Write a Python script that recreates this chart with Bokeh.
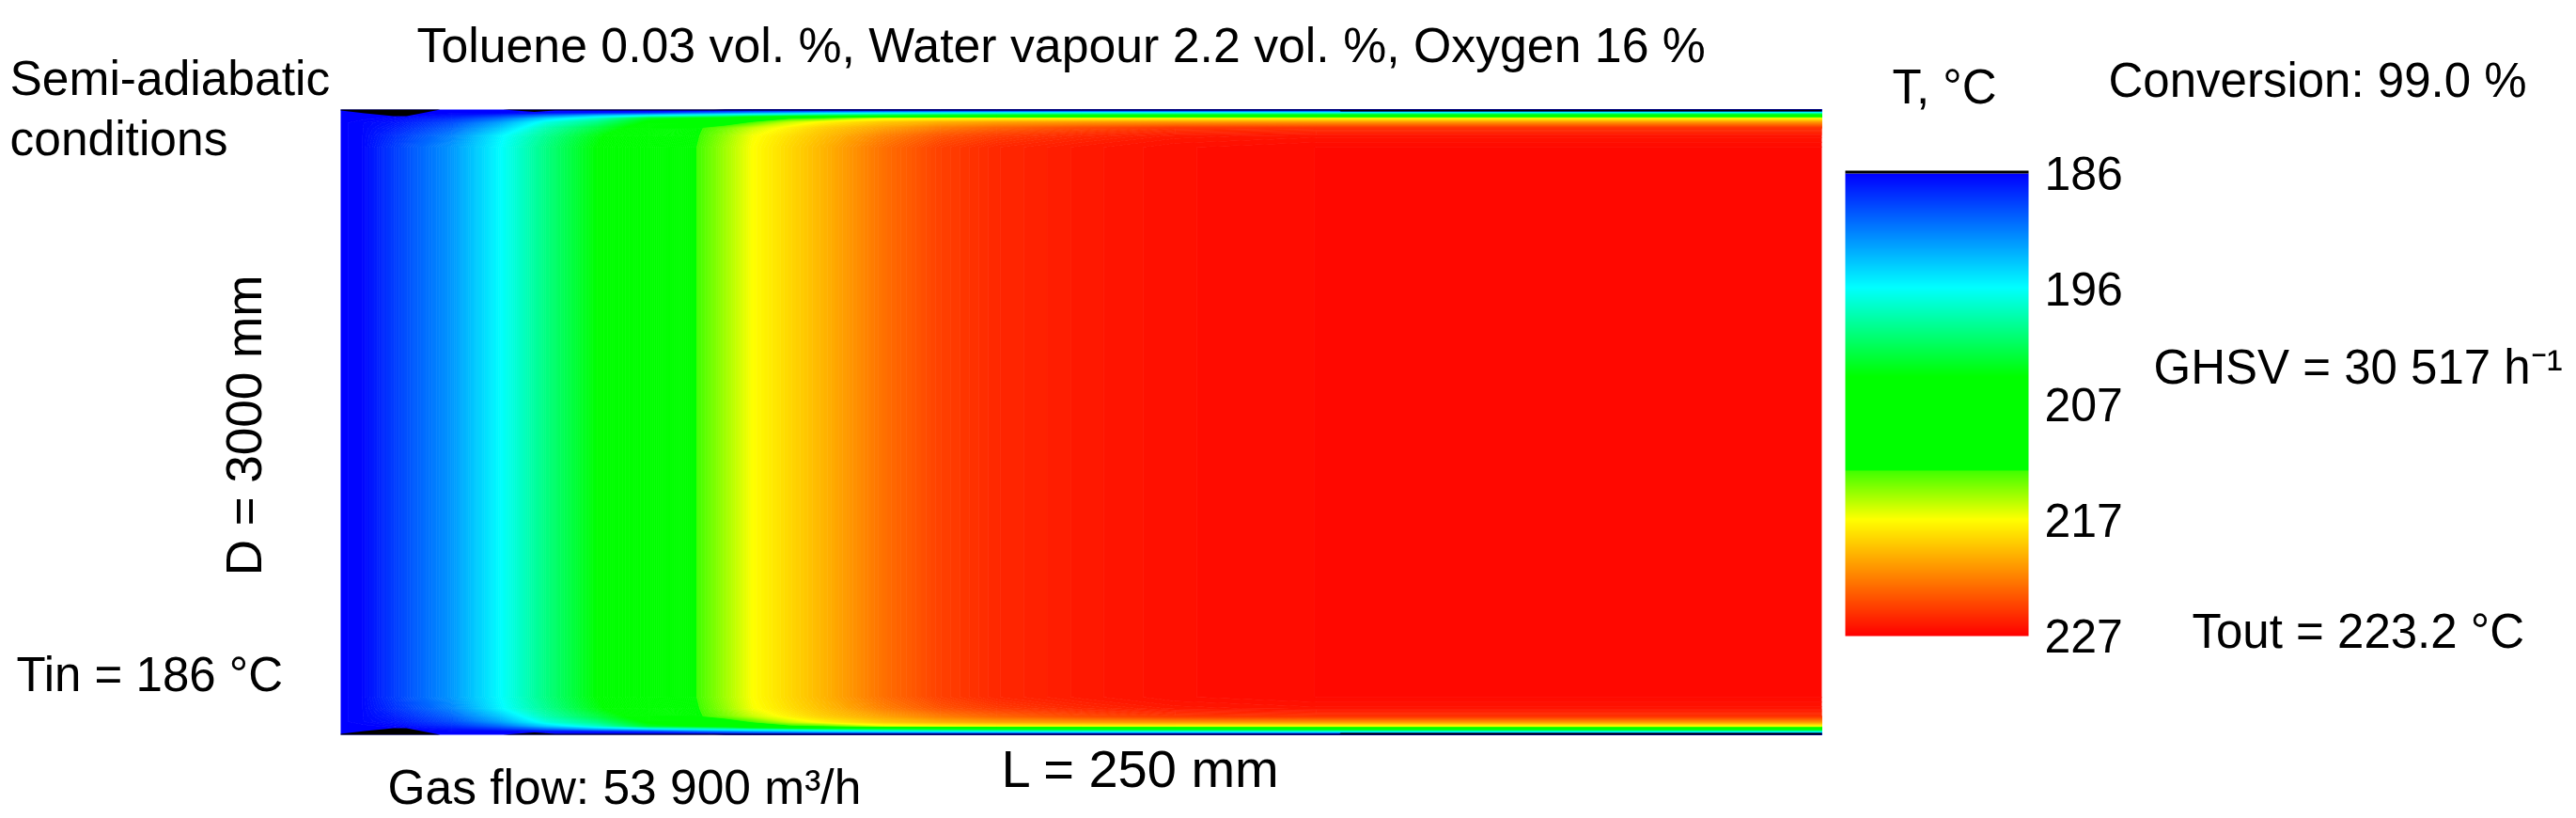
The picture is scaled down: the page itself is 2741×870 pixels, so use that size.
from bokeh.embed import file_html
from bokeh.resources import INLINE
from bokeh.plotting import figure
from bokeh.models import Label, ColorBar, LinearColorMapper, FixedTicker, BoxAnnotation, Range1d
import numpy as np

# ---- data -----------------------------------------------------------------
station_mm = [0, 3.6, 9.2, 18.7, 27, 34.6, 43.3, 52, 60, 64.8, 69.5, 75.8, 81.5, 91.7, 101.2, 110.7, 125, 140.9, 164.7, 250]
wall_dist_mm = [0, 9, 18, 32, 45, 63, 90, 126, 180]

T_d0  = [186]*20
T_d9  = [186, 186, 186, 186, 186, 186, 186, 186, 186, 186.5, 187, 187, 187, 187, 187, 187, 187, 187, 187.5, 188]
T_d18 = [186, 186, 186, 186, 186, 186.5, 187, 188, 190, 191, 192, 193, 194, 195, 195.5, 196, 196.5, 196.5, 196.5, 197]
T_d32 = [186, 186, 186, 187, 188.5, 191, 194, 196.3, 198, 199, 200, 201, 202, 203, 204, 204.5, 205, 205.5, 206, 206.5]
T_d45 = [186, 186, 186.3, 188, 190.5, 194.5, 198, 203, 204.5, 205.5, 209, 212, 213, 216.2, 216.7, 216.8, 216.8, 216.8, 216.8, 216.8]
T_d63 = [186, 186.2, 186.8, 189, 192.5, 197, 200, 204.5, 208.5, 210.5, 212.5, 215.5, 217.2, 219, 220, 220.5, 220.8, 221, 221, 221]
T_d90 = [186, 186.2, 187.3, 190, 194, 198.5, 202, 206, 212, 213.5, 215.5, 217.3, 218.7, 220.5, 222, 223, 224, 224.8, 225, 225]
T_d126 = [186, 186.2, 188, 191.2, 195.8, 199.5, 203.5, 207.5, 212.1, 214.2, 216.5, 218, 219.3, 221.8, 223.6, 224.6, 225.4, 226, 226.2, 226.2]
T_core = [186, 186.2, 188.5, 192, 196.1, 200, 204, 208, 212.3, 214.5, 216.7, 218.3, 219.7, 222.5, 224.4, 225.4, 226, 226.4, 226.6, 226.6]

wall_black_x_mm = [0, 4.1, 8.9, 11.1, 13.6, 16.8, 27.4, 32.7, 36.2, 168.6, 168.8, 250]
wall_black_depth_mm = [4.5, 18, 31.6, 31.6, 18, 0, 0, 11, 4.5, 4.5, 9, 9]

cbar_ticks = [186, 196.25, 206.5, 216.75, 227]
cbar_labels = ["186", "196", "207", "217", "227"]
color_stop_T = [186, 196.1, 204, 212.3, 212.35, 216.7, 227]
color_stop_rgb = [(0, 0, 255), (0, 255, 255), (0, 255, 0), (0, 255, 0), (64, 255, 0), (255, 255, 0), (255, 0, 0)]

W, H = 2737, 868   # canvas
FONT = "Liberation Sans"


def colors_at(temps):
    stops = np.array(color_stop_rgb, dtype=float)
    out = []
    for t in temps:
        r, g, b = (int(round(np.interp(t, color_stop_T, stops[:, i]))) for i in range(3))
        out.append("#%02x%02x%02x" % (r, g, b))
    return out


# mm <-> picture pixel layout of the field
PX_PER_MM_X = (1938 - 362) / 250
PX_PER_MM_Y = (781 - 116) / 3000

p = figure(width=W, height=H, output_backend="svg", toolbar_location=None,
           x_range=Range1d((0 - 362) / PX_PER_MM_X, (W - 362) / PX_PER_MM_X),
           y_range=Range1d(-(H - 781) / PX_PER_MM_Y, 3000 + 116 / PX_PER_MM_Y),
           min_border=0, outline_line_color=None, background_fill_color="white")
p.axis.visible = False
p.grid.visible = False

# temperature field (symmetric about the axis)
half = [T_d0, T_d9, T_d18, T_d32, T_d45, T_d63, T_d90, T_d126, T_core]
rows = half + half[::-1]
ys = wall_dist_mm + [3000 - d for d in wall_dist_mm[::-1]]
Z = np.array(rows, dtype=float)
X, Y = np.meshgrid(np.array(station_mm, dtype=float), np.array(ys, dtype=float))

n_bands = 246
levels = list(np.linspace(185.9, 227.1, n_bands + 1))
mids = [(a + b) / 2 for a, b in zip(levels[:-1], levels[1:])]
p.contour(X, Y, Z, levels, fill_color=colors_at(mids), line_color=colors_at(levels), line_width=1)

# black wall patches
tops_lo = [3000 - d for d in wall_black_depth_mm]
p.varea(x=wall_black_x_mm, y1=tops_lo, y2=[3000] * len(tops_lo), fill_color="black")
p.varea(x=wall_black_x_mm, y1=[0] * len(tops_lo), y2=wall_black_depth_mm, fill_color="black")

# colour bar: 186 on top, 227 at the bottom
mapper = LinearColorMapper(palette=colors_at(list(np.linspace(227, 186, 492))), low=227, high=186)
cb = ColorBar(color_mapper=mapper, location=(1963, H - 676), width=195, height=492,
              padding=0, margin=0, ticker=FixedTicker(ticks=cbar_ticks),
              major_label_overrides=dict(zip(cbar_ticks, cbar_labels)),
              major_label_text_font=FONT, major_label_text_font_size="50px", major_label_text_color="black",
              label_standoff=17, major_tick_line_color=None, minor_tick_line_color=None,
              bar_line_color=None, border_line_color=None, background_fill_color=None)
p.add_layout(cb)
p.add_layout(BoxAnnotation(left=1963, right=2158, top=H - 181, bottom=H - 184,
                           left_units="screen", right_units="screen", top_units="screen", bottom_units="screen",
                           fill_color="black", fill_alpha=1, line_color=None))


def put(text, x, mid, size=51.0, angle=0.0, align="left"):
    p.add_layout(Label(x=x, y=H - mid, x_units="screen", y_units="screen", text=text,
                       text_font=FONT, text_font_size=f"{size}px", text_color="black",
                       text_baseline="middle", text_align=align, angle=angle))


put("Toluene 0.03 vol. %, Water vapour 2.2 vol. %, Oxygen 16 %", 443, 47, size=51.8)
put("Semi-adiabatic", 10, 82, size=51.5)
put("conditions", 10, 146, size=51.5)
put("Tin = 186 °C", 17, 717)
put("D = 3000 mm", 259, 452, size=53, angle=np.pi / 2, align="center")
put("L = 250 mm", 1065, 817, size=56)
put("Gas flow: 53 900 m³/h", 412, 836, size=51.5)
put("T, °C", 2013, 92)
put("Conversion: 99.0 %", 2243, 85)
put("GHSV = 30 517 h⁻¹", 2291, 390)
put("Tout = 223.2 °C", 2332, 671)

open("out.html", "w").write(file_html(p, INLINE))
